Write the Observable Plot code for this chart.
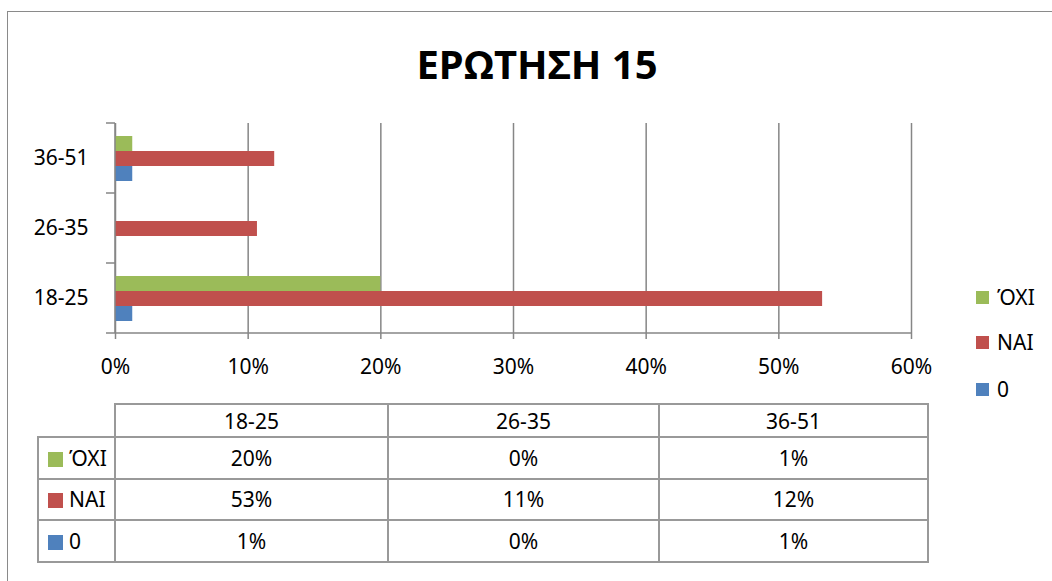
<!DOCTYPE html>
<html><head><meta charset="utf-8">
<script src="https://cdn.jsdelivr.net/npm/d3@7"></script>
<script src="https://cdn.jsdelivr.net/npm/@observablehq/plot@0.6"></script>
<style>
body{margin:0;background:#fff;font-family:"Noto Sans",sans-serif;color:#000;}
#wrap{position:relative;width:1052px;height:581px;overflow:hidden;background:#fff;}
#frame{position:absolute;left:7px;top:11px;width:1100px;height:650px;border:1.5px solid #8a8a8a;box-sizing:border-box;}
#title{position:absolute;left:0;width:1074px;top:44px;text-align:center;font-weight:bold;font-size:40px;line-height:40px;}
#chart{position:absolute;left:0;top:0;}
.leg{position:absolute;left:976px;font-size:21px;line-height:24px;display:flex;align-items:center;}
.sw{display:inline-block;width:13px;height:13px;margin-right:8px;}
#tbl{position:absolute;left:37px;top:403px;border-collapse:collapse;table-layout:fixed;font-size:21px;}
#tbl td{border:2px solid #999;text-align:center;vertical-align:middle;padding:0;line-height:24px;}
#tbl td.rh{text-align:left;white-space:nowrap;}
#tbl td.corner{border-top:none;border-left:none;}
.tsw{display:inline-block;width:15px;height:15px;margin:0 6px 0 9px;vertical-align:-1px;}
</style></head>
<body>
<div id="wrap">
  <div id="frame"></div>
  <div id="title">ΕΡΩΤΗΣΗ 15</div>
  <div id="chart"></div>
  <div id="legend"></div>
  <table id="tbl"></table>
</div>
<script>
const categories = ["18-25", "26-35", "36-51"];
const seriesNames = ["ΌΧΙ", "ΝΑΙ", "0"];
const okhiValues = [0.200, 0.000, 0.013];
const naiValues  = [0.533, 0.107, 0.120];
const zeroValues = [0.013, 0.000, 0.013];
const seriesColors = ["#9BBB59", "#C0504D", "#4F81BD"];
const xTicks = [0, 0.1, 0.2, 0.3, 0.4, 0.5, 0.6];

const seriesValues = [okhiValues, naiValues, zeroValues];
const data = [];
seriesNames.forEach((s, si) => categories.forEach((c, ci) => data.push({series: s, category: c, value: seriesValues[si][ci]})));

const pct = v => Math.round(v * 100) + "%";
const W = 1052, H = 400;
const chart = Plot.plot({
  width: W, height: H,
  marginTop: 123, marginBottom: 67, marginLeft: 115, marginRight: 141,
  style: {fontFamily: "Noto Sans, sans-serif", fontSize: "21px", color: "#000", background: "transparent"},
  x: {domain: [0, 0.6], ticks: xTicks, tickFormat: pct, axis: null},
  y: {domain: seriesNames, paddingInner: 0, paddingOuter: 0.75, axis: null},
  fy: {domain: categories.slice().reverse(), padding: 0, label: null, axis: null},
  color: {domain: seriesNames, range: seriesColors},
  marks: [
    Plot.gridX(xTicks, {stroke: "#868686", strokeOpacity: 1, strokeWidth: 1.5}),
    Plot.barX(data, {x: "value", y: "series", fy: "category", fill: "series"}),
    Plot.axisX(xTicks, {tickSize: 6, tickPadding: 20, tickFormat: pct, stroke: "#868686", strokeWidth: 1.5, fill: "#000", fontSize: 21, label: null}),
    Plot.axisFy({anchor: "left", tickSize: 0, tickPadding: 27, fontSize: 21, label: null, fill: "#000"})
  ]
});
document.getElementById("chart").appendChild(chart);

// axis lines and category-boundary ticks from the plot's own scales
const fy = chart.scale("fy"), xs = chart.scale("x");
const svg = d3.select(chart);
const starts = fy.domain.map(d => fy.apply(d));
const bounds = [...starts, starts[starts.length - 1] + fy.bandwidth];
const bottom = Math.max(...bounds);
const x0 = xs.apply(0), x1 = xs.apply(xTicks[xTicks.length - 1]);
svg.append("line").attr("x1", x0).attr("x2", x1).attr("y1", bottom).attr("y2", bottom)
  .attr("stroke", "#868686").attr("stroke-width", 1.5);
svg.append("line").attr("x1", x0).attr("x2", x0).attr("y1", Math.min(...bounds)).attr("y2", bottom)
  .attr("stroke", "#868686").attr("stroke-width", 1.5);
bounds.forEach(b => svg.append("line").attr("x1", x0 - 9).attr("x2", x0).attr("y1", b).attr("y2", b)
  .attr("stroke", "#868686").attr("stroke-width", 1.5));

// legend
const legTops = [285, 330, 377];
const leg = d3.select("#legend");
seriesNames.forEach((s, i) => {
  const it = leg.append("div").attr("class", "leg").style("top", legTops[i] + "px");
  it.append("span").attr("class", "sw").style("background", seriesColors[i]);
  it.append("span").text(s);
});

// data table
const tbl = d3.select("#tbl");
const colW = [77, 273, 271, 269];
const cg = tbl.append("colgroup");
colW.forEach(w => cg.append("col").style("width", w + "px"));
const hr = tbl.append("tr").style("height", "33px");
hr.append("td").attr("class", "corner");
categories.forEach(c => hr.append("td").text(c));
seriesNames.forEach((s, si) => {
  const r = tbl.append("tr").style("height", "41.5px");
  const h = r.append("td").attr("class", "rh");
  h.append("span").attr("class", "tsw").style("background", seriesColors[si]);
  h.append("span").text(s);
  categories.forEach((c, ci) => r.append("td").text(pct(seriesValues[si][ci])));
});
</script>
</body></html>
